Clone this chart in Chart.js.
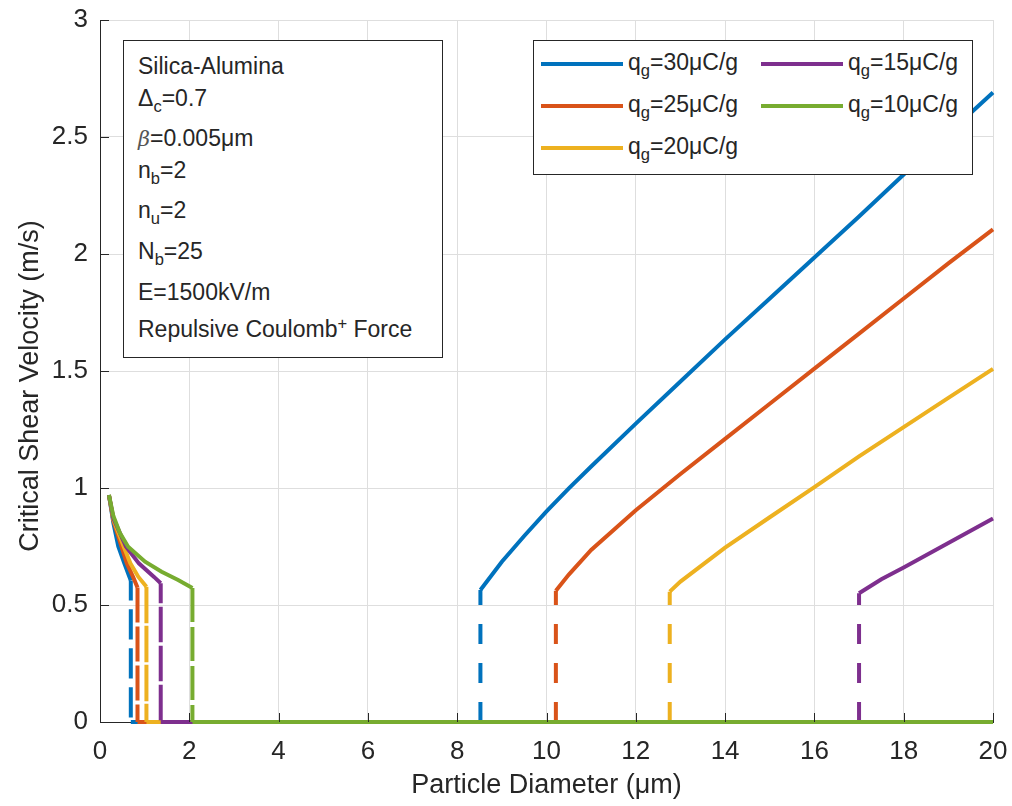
<!DOCTYPE html>
<html lang="en">
<head>
<meta charset="UTF-8">
<title>Critical Shear Velocity vs Particle Diameter</title>
<script src="https://cdn.jsdelivr.net/npm/chart.js"></script>
<style>
  html, body { margin: 0; padding: 0; background: #fff; }
  #wrap { position: relative; width: 1012px; height: 806px; font-family: "Liberation Sans", Arial, sans-serif; color: #262626; }
  #chart { position: absolute; left: 0; top: 0; }
  .box { position: absolute; background: #fff; border: 1.5px solid #262626; box-sizing: border-box; }
  .t { position: absolute; font-size: 23px; line-height: 23px; white-space: nowrap; }
  .t sub { font-size: 0.72em; vertical-align: -0.38em; line-height: 0; }
  .t sup { font-size: 0.72em; vertical-align: 0.5em; line-height: 0; }
  .lg { font-size: 23px; }
  .beta { font-style: italic; font-family: "DejaVu Serif", serif; color: #555; font-size: 0.9em; }
  .sw { position: absolute; height: 4px; width: 82px; }
</style>
</head>
<body>
<div id="wrap">
  <canvas id="chart" width="1012" height="806"></canvas>

  <!-- parameter box -->
  <div class="box" style="left:123px; top:40px; width:320px; height:318px;"></div>
  <div class="t" style="left:138px; top:55px;">Silica-Alumina</div>
  <div class="t" style="left:138px; top:87px;">&Delta;<sub>c</sub>=0.7</div>
  <div class="t" style="left:138px; top:127px;"><span class="beta">&beta;</span>=0.005&mu;m</div>
  <div class="t" style="left:138px; top:159px;">n<sub>b</sub>=2</div>
  <div class="t" style="left:138px; top:199px;">n<sub>u</sub>=2</div>
  <div class="t" style="left:138px; top:240px;">N<sub>b</sub>=25</div>
  <div class="t" style="left:138px; top:281px;">E=1500kV/m</div>
  <div class="t" style="left:138px; top:318px;">Repulsive Coulomb<sup>+</sup> Force</div>

  <!-- legend -->
  <div class="box" style="left:533px; top:40px; width:440px; height:135px;"></div>
  <div id="legend"></div>
</div>

<script>
  // series labels (charge) and colours
  const charges = ['30', '25', '20', '15', '10'];
  const colors = ['#0072BD', '#D95319', '#EDB120', '#7E2F8E', '#77AC30'];

  // left branch [diameter µm, velocity m/s]
  const left30 = [[0.2, 0.97], [0.3, 0.85], [0.41, 0.75], [0.545, 0.678], [0.66, 0.62], [0.69, 0.605]];
  const left25 = [[0.2, 0.97], [0.3, 0.86], [0.48, 0.75], [0.6, 0.678], [0.74, 0.62], [0.84, 0.575]];
  const left20 = [[0.2, 0.97], [0.3, 0.865], [0.53, 0.75], [0.68, 0.678], [0.86, 0.62], [1.04, 0.578]];
  const left15 = [[0.2, 0.97], [0.3, 0.87], [0.58, 0.75], [0.87, 0.678], [1.21, 0.62], [1.36, 0.593]];
  const left10 = [[0.2, 0.97], [0.3, 0.88], [0.45, 0.806], [0.63, 0.749], [1.01, 0.685], [1.38, 0.642], [1.75, 0.607], [2.07, 0.573]];

  // right branch [diameter µm, velocity m/s]
  const right30 = [[8.52, 0.564], [9, 0.685], [9.5, 0.795], [10, 0.9], [10.5, 0.998], [11, 1.092], [12, 1.275], [13, 1.455], [14, 1.635], [15, 1.81], [16, 1.985], [17, 2.16], [18, 2.34], [19, 2.515], [20, 2.69]];
  const right25 = [[10.21, 0.561], [10.5, 0.63], [11, 0.735], [12, 0.905], [13, 1.06], [14, 1.21], [15, 1.36], [16, 1.51], [17, 1.66], [18, 1.81], [19, 1.96], [20, 2.105]];
  const right20 = [[12.76, 0.557], [13, 0.6], [14, 0.745], [15, 0.875], [16, 1.004], [17, 1.135], [18, 1.26], [19, 1.385], [20, 1.509]];
  const right15 = [[17.0, 0.55], [17.5, 0.61], [18, 0.66], [19, 0.765], [20, 0.87]];
  const right10 = [];

  const leftBranches = [left30, left25, left20, left15, left10];
  const rightBranches = [right30, right25, right20, right15, right10];

  const xTicksMax = 20, yTicksMax = 3;
  const xTitle = 'Particle Diameter (μm)';
  const yTitle = 'Critical Shear Velocity (m/s)';

  // left curve, dashed drop to zero, solid zero line, dashed rise, right curve
  function buildPoints(left, right) {
    const pts = left.map(p => ({ x: p[0], y: p[1] }));
    const xb = left[left.length - 1][0];
    pts.push({ x: xb, y: 0 });
    if (right.length) {
      pts.push({ x: right[0][0], y: 0 });
      right.forEach(p => pts.push({ x: p[0], y: p[1] }));
    } else {
      pts.push({ x: xTicksMax, y: 0 });
    }
    return pts;
  }

  const datasets = charges.map((c, i) => ({
    label: 'q_g=' + c + 'μC/g',
    data: buildPoints(leftBranches[i], rightBranches[i]),
    borderColor: colors[i],
    borderWidth: 4,
    borderCapStyle: 'butt',
    pointRadius: 0,
    tension: 0,
    clip: false,
    order: charges.length - i,
    segment: {
      borderDash: ctx => ctx.p0.parsed.x === ctx.p1.parsed.x ? [20, 19] : undefined
    }
  }));

  // legend, filled column by column
  const legendEl = document.getElementById('legend');
  const legendPos = [[541, 64], [541, 106], [541, 148], [761, 64], [761, 106]];
  charges.forEach((c, i) => {
    const [lx, ly] = legendPos[i];
    const sw = document.createElement('div');
    sw.className = 'sw';
    sw.style.left = lx + 'px';
    sw.style.top = (ly - 2) + 'px';
    sw.style.background = colors[i];
    legendEl.appendChild(sw);
    const t = document.createElement('div');
    t.className = 't lg';
    t.style.left = (lx + 87) + 'px';
    t.style.top = (ly - 13) + 'px';
    t.innerHTML = 'q<sub>g</sub>=' + c + 'μC/g';
    legendEl.appendChild(t);
  });

  const insideTicks = {
    id: 'insideTicks',
    afterDraw(chart) {
      const { ctx, chartArea: a, scales: { x, y } } = chart;
      ctx.save();
      ctx.strokeStyle = '#262626';
      ctx.lineWidth = 1;
      ctx.beginPath();
      x.ticks.forEach(t => {
        const px = Math.round(x.getPixelForValue(t.value)) + 0.5;
        ctx.moveTo(px, a.bottom);
        ctx.lineTo(px, a.bottom - 9);
      });
      y.ticks.forEach(t => {
        const py = Math.round(y.getPixelForValue(t.value)) + 0.5;
        ctx.moveTo(a.left, py);
        ctx.lineTo(a.left + 9, py);
      });
      ctx.stroke();
      ctx.translate(31, 386);
      ctx.rotate(-Math.PI / 2);
      ctx.textAlign = 'center';
      ctx.textBaseline = 'middle';
      ctx.font = '27px "Liberation Sans", Arial, sans-serif';
      ctx.fillStyle = '#262626';
      ctx.fillText(yTitle, 0, 0);
      ctx.restore();
    }
  };

  const tickFont = { family: '"Liberation Sans", Arial, sans-serif', size: 26 };
  const titleFont = { family: '"Liberation Sans", Arial, sans-serif', size: 27 };

  new Chart(document.getElementById('chart'), {
    type: 'line',
    data: { datasets },
    plugins: [insideTicks],
    options: {
      responsive: false,
      animation: false,
      layout: { padding: { top: 20, right: 19, left: 0, bottom: 0 } },
      plugins: { legend: { display: false }, tooltip: { enabled: false } },
      scales: {
        x: {
          type: 'linear',
          min: 0,
          max: xTicksMax,
          afterFit: s => { s.height = 84; s.paddingLeft = 0; s.paddingRight = 0; },
          ticks: { stepSize: 2, font: tickFont, color: '#262626', padding: 14, maxRotation: 0, callback: v => String(v) },
          grid: { color: '#dedede', drawTicks: false },
          border: { color: '#262626', width: 1 },
          title: { display: true, text: xTitle, font: titleFont, color: '#262626', padding: { top: 0, bottom: 4 } }
        },
        y: {
          type: 'linear',
          min: 0,
          max: yTicksMax,
          afterFit: s => { s.width = 100; s.paddingTop = 0; s.paddingBottom = 0; },
          ticks: { stepSize: 0.5, font: tickFont, color: '#262626', padding: 12, callback: v => String(v) },
          grid: { color: '#dedede', drawTicks: false },
          border: { color: '#262626', width: 1 }
        }
      }
    }
  });
</script>
</body>
</html>
